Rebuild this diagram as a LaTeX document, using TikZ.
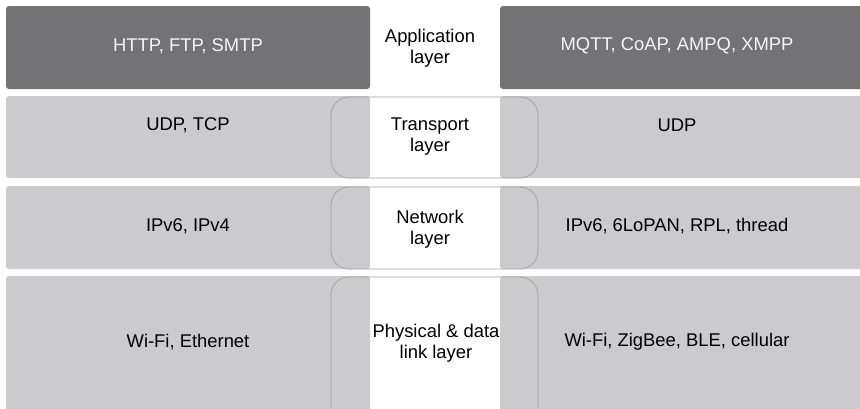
\documentclass[tikz,border=0pt]{standalone}
\usepackage{fontspec}
\setmainfont{Liberation Sans}
\definecolor{darkrow}{RGB}{115,115,118}
\definecolor{lightrow}{RGB}{203,203,205}
\definecolor{outl}{RGB}{160,160,162}
\definecolor{lighttext}{RGB}{245,245,245}
\begin{document}
\begin{tikzpicture}[x=1pt,y=-1pt,
  lbl/.style={font=\fontsize{18.4}{21}\selectfont, inner sep=0pt, align=center},
  darkbox/.style={fill=darkrow, rounded corners=3pt},
  lightbox/.style={fill=lightrow, rounded corners=3pt},
  band/.style={draw=outl, line width=0.7pt, rounded corners=18pt}]
\useasboundingbox (0,0) rectangle (860,408);
\fill[white] (0,0) rectangle (860,408);
\clip (0,0) rectangle (860,408);
% row 1
\fill[darkbox] (6,6) rectangle (370,89);
\fill[darkbox] (500,6) rectangle (870,89);
% row 2
\fill[lightbox] (6,96) rectangle (370,178);
\fill[lightbox] (500,96) rectangle (870,178);
\draw[band] (331,97) rectangle (538,178);
% row 3
\fill[lightbox] (6,186) rectangle (370,269);
\fill[lightbox] (500,186) rectangle (870,269);
\draw[band] (331,187) rectangle (538,269);
% row 4
\fill[lightbox] (6,276) rectangle (370,420);
\fill[lightbox] (500,276) rectangle (870,420);
\draw[band] (331,277) rectangle (538,430);
% labels
\node[lbl, text=lighttext] (app-l) at (188,46) {HTTP, FTP, SMTP};
\node[lbl] (app-m) at (430,48) {Application\\layer};
\node[lbl, text=lighttext] (app-r) at (677,46) {MQTT, CoAP, AMPQ, XMPP};
\node[lbl] (tr-l) at (188,125) {UDP, TCP};
\node[lbl] (tr-m) at (430,137) {Transport\\layer};
\node[lbl] (tr-r) at (677,125) {UDP};
\node[lbl] (nw-l) at (188,226) {IPv6, IPv4};
\node[lbl] (nw-m) at (430,229) {Network\\layer};
\node[lbl] (nw-r) at (677,226) {IPv6, 6LoPAN, RPL, thread};
\node[lbl] (ph-l) at (188,342) {Wi-Fi, Ethernet};
\node[lbl] (ph-m) at (436,343) {Physical \& data\\link layer};
\node[lbl] (ph-r) at (677,342) {Wi-Fi, ZigBee, BLE, cellular};
\end{tikzpicture}
\end{document}
